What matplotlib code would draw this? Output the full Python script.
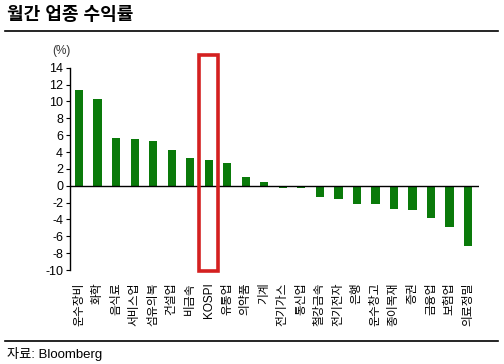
import matplotlib
matplotlib.use("Agg")
import matplotlib.pyplot as plt
from matplotlib.patches import Rectangle
from matplotlib.lines import Line2D

plt.rcParams["font.family"] = ["Liberation Sans", "Noto Sans CJK KR", "DejaVu Sans"]

업종 = ["운수장비", "화학", "음식료", "서비스업", "섬유의복", "건설업", "비금속",
       "KOSPI", "유통업", "의약품", "기계", "전기가스", "통신업", "철강금속",
       "전기전자", "은행", "운수창고", "종이목재", "증권", "금융업", "보험업",
       "의료정밀"]
수익률 = [11.3, 10.3, 5.7, 5.5, 5.25, 4.3, 3.35, 3.0, 2.75, 1.0, 0.5, -0.25,
        -0.25, -1.35, -1.6, -2.2, -2.2, -2.8, -2.9, -3.8, -4.9, -7.15]
강조 = "KOSPI"
y_ticks = list(range(-10, 15, 2))

fig = plt.figure(figsize=(5.04, 3.64), dpi=100)
ax = fig.add_axes([0.139, 0.258, 0.8115, 0.556])

x = list(range(len(업종)))
ax.bar(x, 수익률, width=0.45, color="#0a7a0a")
ax.axhline(0, color="black", lw=1.0, zorder=3)

ax.set_xlim(-0.49, len(업종) - 0.4)
ax.set_ylim(-10, 14)
ax.set_yticks(y_ticks)
ax.set_yticklabels([str(v) for v in y_ticks], fontsize=9)
ax.set_xticks(x)
ax.set_xticklabels(업종, rotation=90, fontsize=8.5, va="top", ha="center")
ax.tick_params(axis="x", length=0, pad=9)
ax.tick_params(axis="y", length=3, direction="out", pad=2)

for s in ["top", "right", "bottom"]:
    ax.spines[s].set_visible(False)
ax.spines["left"].set_linewidth(1.0)

# KOSPI 강조 박스
k = 업종.index(강조)
ax.add_patch(Rectangle((k - 0.52, -10.15), 1.04, 25.6, fill=False,
                       edgecolor="#d42020", lw=2.6, clip_on=False, zorder=4))

ax.text(-0.45, 16.0, "(%)", fontsize=8.5, ha="right", va="center", color="#333333")

fig.text(0.014, 0.957, "월간 업종 수익률", fontsize=13, fontweight="bold",
         ha="left", va="center")
fig.add_artist(Line2D([0.01, 0.988], [0.916, 0.916], color="black", lw=1.2))
fig.add_artist(Line2D([0.01, 0.988], [0.064, 0.064], color="black", lw=1.2))
fig.text(0.014, 0.028, "자료: Bloomberg", fontsize=9.5, ha="left", va="center")

fig.savefig("out.png", dpi=100)
